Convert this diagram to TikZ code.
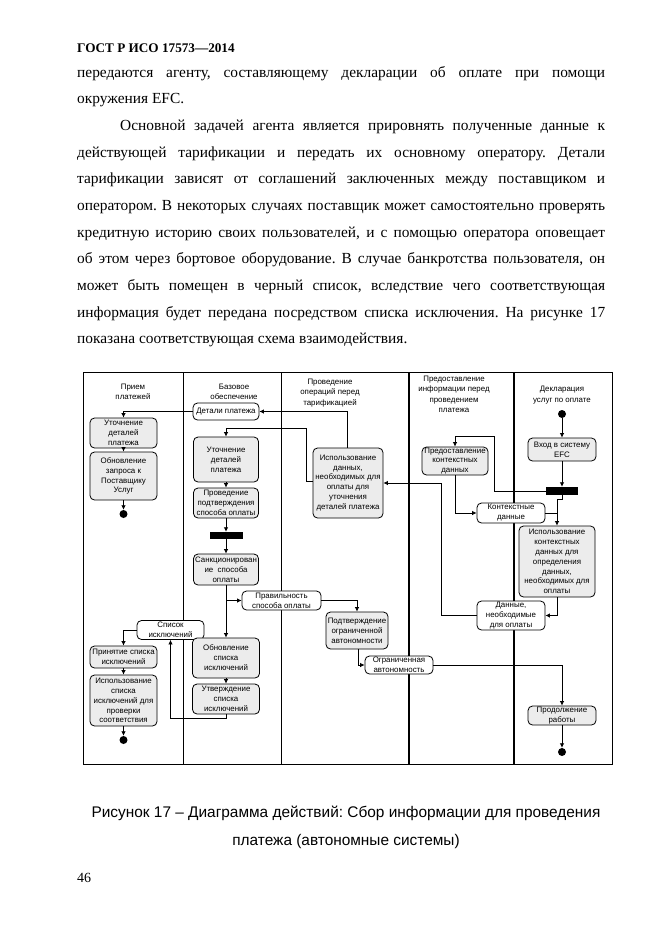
\documentclass[tikz,border=0pt]{standalone}
\usepackage{fontspec}
\setmainfont{Liberation Serif}
\newfontfamily\dsans{Liberation Sans}
\usetikzlibrary{arrows.meta}
\definecolor{actgray}{RGB}{236,236,236}
\frenchspacing
\begin{document}
\begin{tikzpicture}[x=1pt,y=-1pt,
  lbl/.style={font=\dsans\fontsize{7.9}{9.9}\selectfont, align=center, inner sep=0pt},
  hdrlbl/.style={font=\dsans\fontsize{7.9}{10.5}\selectfont, align=center, inner sep=0pt},
  act/.style={lbl, draw, line width=0.8pt, rounded corners=4.5pt, fill=actgray},
  obj/.style={lbl, draw, line width=0.8pt, rounded corners=4.5pt, fill=white},
  syncbar/.style={fill=black, inner sep=0pt},
  dot/.style={circle, fill=black, inner sep=0pt, minimum size=8pt},
  flow/.style={-{Latex[length=4.5pt,width=4.5pt]}, line width=0.8pt},
  link/.style={line width=0.8pt},
  lane/.style={line width=0.8pt},
  thicklane/.style={line width=2.4pt},
  body/.style={anchor=base west, inner sep=0pt, font=\fontsize{15.4}{18}\selectfont},
]
\fill[white] (0,0) rectangle (661,935);
\useasboundingbox (0,0) rectangle (661,935);

% header and body text
\node[anchor=base west, inner sep=0pt, font=\bfseries\fontsize{13.2}{16}\selectfont] (hdr) at (77,52) {ГОСТ Р ИСО 17573—2014};
\node[body] (t1) at (77,77) {\makebox[528pt][s]{передаются агенту, составляющему декларации об оплате при помощи}};
\node[body] (t2) at (77,103.5) {окружения EFC.};
\node[body] (t3) at (120,130) {\makebox[485pt][s]{Основной задачей агента является прировнять полученные данные к}};
\node[body] (t4) at (77,157) {\makebox[528pt][s]{действующей тарификации и передать их основному оператору. Детали}};
\node[body] (t5) at (77,183.5) {\makebox[528pt][s]{тарификации зависят от соглашений заключенных между поставщиком и}};
\node[body] (t6) at (77,210) {\makebox[528pt][s]{оператором. В некоторых случаях поставщик может самостоятельно проверять}};
\node[body] (t7) at (77,237) {\makebox[528pt][s]{кредитную историю своих пользователей, и с помощью оператора оповещает}};
\node[body] (t8) at (77,263.5) {\makebox[528pt][s]{об этом через бортовое оборудование. В случае банкротства пользователя, он}};
\node[body] (t9) at (77,290) {\makebox[528pt][s]{может быть помещен в черный список, вследствие чего соответствующая}};
\node[body] (t10) at (77,317) {\makebox[528pt][s]{информация будет передана посредством списка исключения. На рисунке 17}};
\node[body] (t11) at (77,343.5) {показана соответствующая схема взаимодействия.};

% frame and lanes
\draw[lane] (83,372) rectangle (612,764);
\draw[lane] (183,372) -- (183,764);
\draw[lane] (281,372) -- (281,764);
\draw[thicklane] (409,372) -- (409,764);
\draw[thicklane] (514,372) -- (514,764);

\node[hdrlbl] (h1) at (133,392) {Прием\\платежей};
\node[hdrlbl] (h2) at (234,392) {Базовое\\обеспечение};
\node[hdrlbl] (h3) at (330,393) {Проведение\\операций перед\\тарификацией};
\node[hdrlbl] (h4) at (454,394.5) {Предоставление\\информации перед\\проведением\\платежа};
\node[hdrlbl] (h5) at (562,395) {Декларация\\услуг по оплате};

% lane 1
\node[act, minimum width=67pt, minimum height=30pt] (u1) at (123.5,433) {Уточнение\\деталей\\платежа};
\node[act, minimum width=67pt, minimum height=48pt] (o1) at (123.5,476) {Обновление\\запроса к\\Поставщику\\Услуг};
\node[dot] (f1) at (123.5,514) {};
\node[obj, minimum width=67pt, minimum height=19pt] (sp) at (170.5,630) {Список\\исключений};
\node[act, minimum width=67pt, minimum height=22pt] (pr) at (123.5,657) {Принятие списка\\исключений};
\node[act, minimum width=67pt, minimum height=51pt] (is) at (123.5,700.5) {Использование\\списка\\исключений для\\проверки\\соответствия};
\node[dot] (f2) at (123.5,740) {};

% lane 2
\node[obj, minimum width=66pt, minimum height=17pt] (dp) at (226,411.5) {Детали платежа};
\node[act, minimum width=65pt, minimum height=45pt] (u2) at (226,459.5) {Уточнение\\деталей\\платежа};
\node[act, minimum width=65pt, minimum height=30pt] (pp) at (226,503) {Проведение\\подтверждения\\способа оплаты};
\node[syncbar, minimum width=33pt, minimum height=7pt] (b1) at (226,535.5) {};
\node[act, minimum width=65pt, minimum height=31pt] (sk) at (226,569.5) {Санкционирован\\ие\ \ способа\\оплаты};
\node[obj, minimum width=79pt, minimum height=19pt] (ps) at (281.5,600.5) {Правильность\\способа оплаты};
\node[act, minimum width=67pt, minimum height=40pt] (ob) at (226,658) {Обновление\\списка\\исключений};
\node[act, minimum width=67pt, minimum height=30pt] (ut) at (226,699) {Утверждение\\списка\\исключений};

% lane 3
\node[act, minimum width=70pt, minimum height=70pt] (ud) at (348,483) {Использование\\данных,\\необходимых для\\оплаты для\\уточнения\\деталей платежа};
\node[act, minimum width=62pt, minimum height=37pt] (pa) at (357,630.5) {Подтверждение\\ограниченной\\автономности};
\node[obj, minimum width=68pt, minimum height=18pt] (oa) at (399,665) {Ограниченная\\автономность};

% lane 4
\node[act, minimum width=66pt, minimum height=28pt] (pk) at (455,461) {Предоставление\\контекстных\\данных};
\node[obj, minimum width=68pt, minimum height=20pt] (kd) at (511,513) {Контекстные\\данные};
\node[obj, minimum width=68pt, minimum height=29pt] (dn) at (511,615.5) {Данные,\\необходимые\\для оплаты};

% lane 5
\node[dot] (st) at (562,414) {};
\node[act, minimum width=68pt, minimum height=23pt] (vh) at (562,449.5) {Вход в систему\\EFC};
\node[syncbar, minimum width=32pt, minimum height=8pt] (b2) at (562,491) {};
\node[act, minimum width=76pt, minimum height=71pt] (ik) at (557,561.5) {Использование\\контекстных\\данных для\\определения\\данных,\\необходимых для\\оплаты};
\node[act, minimum width=68pt, minimum height=19pt] (pw) at (562,715.5) {Продолжение\\работы};
\node[dot] (f3) at (562,752) {};

% connectors
\draw[flow] ([xshift=-1pt]ud.north) |- (dp.east);
\draw[flow] (dp.west) -| (u1.north);
\draw[flow] ([yshift=2pt]ud.west) -- ++(-6,0) |- ([yshift=8pt]u2.north) -- (u2.north);
\draw[flow] (u1) -- (o1);
\draw[flow] (o1) -- (f1);
\draw[flow] (u2) -- (pp);
\draw[flow] (pp) -- (b1);
\draw[flow] (b1) -- (sk);
\draw[flow] (sk) -- (ob);
\draw[flow] (sk.south |- ps.west) -- (ps.west);
\draw[flow] (ps.east) -| (pa.north);
\draw[flow] ([xshift=1pt]pa.south) |- (oa.west);
\draw[flow] (oa.east) -| (pw.north);
\draw[flow] (pw) -- (f3);
\draw[flow] (st) -- (vh);
\draw[flow] (vh) -- (b2);
\draw[flow] (b2.west) -- ++(-51,0) |- ([yshift=10pt]pk.north) -- (pk.north);
\draw[flow] (b2.south) -- ++(0,4) -| (ik.north);
\draw[flow] (pk.south) |- (kd.west);
\draw[link] (kd.east) -- (kd.east -| ik.north);
\draw[flow] (ik.south) |- (dn.east);
\draw[flow] (dn.west) -- ++(-35,0) |- (ud.east);
\draw[flow] (ob) -- (ut);
\draw[flow] (ut.south) -- ++(0,4) -| (sp.south);
\draw[flow] (sp.west) -| (pr.north);
\draw[flow] (pr) -- (is);
\draw[flow] (is) -- (f2);

% caption and page number
\node[anchor=base, inner sep=0pt, font=\dsans\fontsize{15.4}{18}\selectfont] (cap1) at (346,817) {Рисунок 17 – Диаграмма действий: Сбор информации для проведения};
\node[anchor=base, inner sep=0pt, font=\dsans\fontsize{15.4}{18}\selectfont] (cap2) at (346,845) {платежа (автономные системы)};
\node[anchor=base west, inner sep=0pt, font=\fontsize{14}{16}\selectfont] (pg) at (77,882) {46};
\end{tikzpicture}
\end{document}
